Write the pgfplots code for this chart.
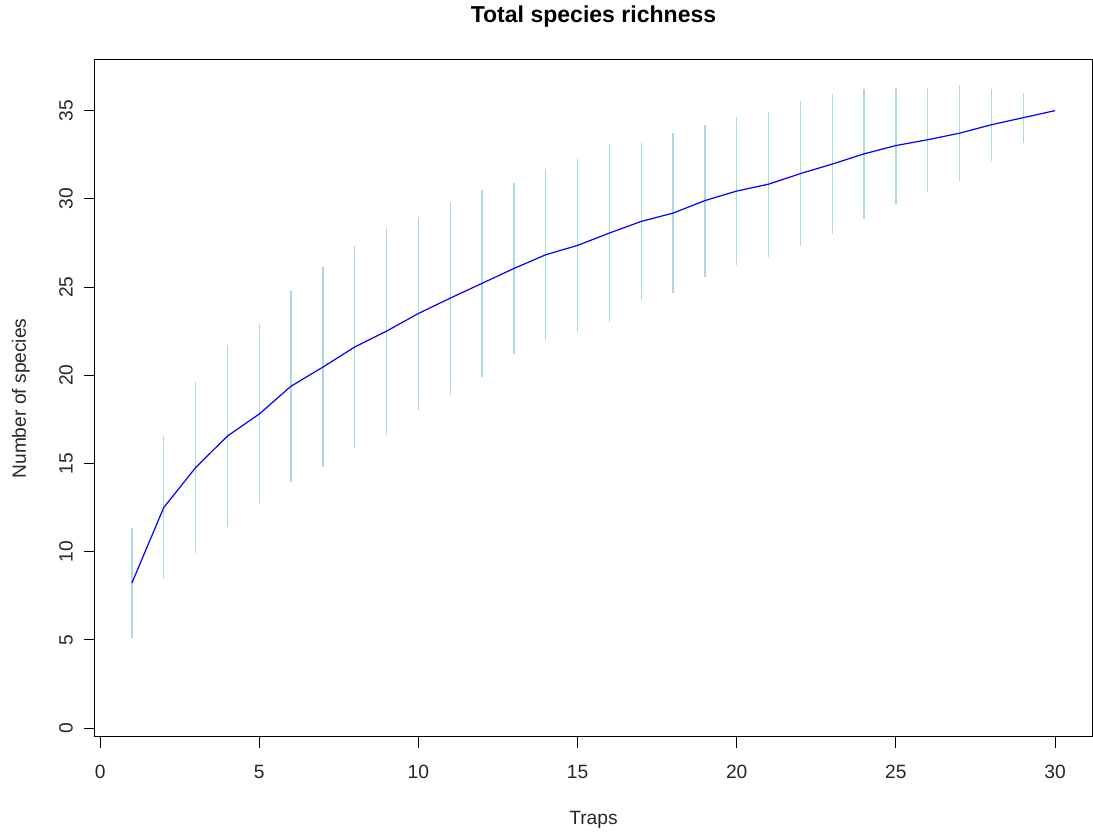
\documentclass[border=0pt]{standalone}
\usepackage{pgfplots}
\pgfplotsset{compat=1.18}
\usepackage{pgfplotstable}
\usepackage{fontspec}
\setmainfont{Liberation Sans}

\definecolor{lightblue}{HTML}{ADD8E6}
\definecolor{curveblue}{HTML}{0000FF}

% Species accumulation: mean richness and standard deviation per number of traps
\pgfplotstableread{
x  y      sd
1  8.22   3.09
2  12.50  4.07
3  14.76  4.85
4  16.55  5.18
5  17.80  5.08
6  19.38  5.41
7  20.46  5.68
8  21.60  5.72
9  22.50  5.90
10 23.50  5.45
11 24.37  5.47
12 25.21  5.31
13 26.05  4.82
14 26.83  4.86
15 27.36  4.90
16 28.06  5.04
17 28.72  4.45
18 29.19  4.52
19 29.90  4.31
20 30.44  4.18
21 30.83  4.11
22 31.43  4.10
23 31.97  3.98
24 32.55  3.70
25 33.02  3.29
26 33.35  2.95
27 33.72  2.72
28 34.20  2.04
29 34.60  1.42
30 35.00  0.00
}\richness

\begin{document}
\fontsize{14.4pt}{17pt}\selectfont
\begin{tikzpicture}
\begin{axis}[
  name=ax,
  at={(0,0)}, anchor=south west,
  scale only axis,
  width=747.75pt, height=507.75pt,
  xmin=-0.16, xmax=31.16,
  ymin=-0.51, ymax=37.87,
  xtick={0,5,...,30},
  ytick={0,5,...,35},
  xtick pos=bottom, ytick pos=left,
  tick align=outside,
  major tick length=8.25pt,
  axis line style={black, line width=0.75pt},
  every tick/.style={black, line width=0.75pt},
  /pgf/number format/assume math mode=true,
  ticklabel style={font=\fontsize{14.4pt}{17pt}\selectfont, text=black!85},
  xticklabel style={anchor=north, inner sep=0pt, yshift=-12.5pt},
  yticklabel style={rotate=90, anchor=south, inner sep=0pt, yshift=8.25pt},
]
  % standard deviation bars
  \addplot[draw=none, mark=none, forget plot,
    error bars/.cd, y dir=both, y explicit, error mark=none,
    error bar style={draw=lightblue, line width=0.9pt}]
    table[x=x, y=y, y error=sd] {\richness};
  % mean accumulation curve
  \addplot[curveblue, line width=0.9pt, mark=none]
    table[x=x, y=y] {\richness};
\end{axis}
\node[anchor=base, font=\bfseries\fontsize{17.28pt}{20pt}\selectfont]
  at ([yshift=28pt]ax.north) {Total species richness};
\node[anchor=base, text=black!85] at ([yshift=-66pt]ax.south) {Traps};
\node[rotate=90, anchor=base, text=black!85] at ([xshift=-51.75pt]ax.west) {Number of species};
\pgfresetboundingbox
\path[use as bounding box] (-71.25pt,-71.25pt) rectangle (748.5pt,552.75pt);
\end{tikzpicture}
\end{document}
